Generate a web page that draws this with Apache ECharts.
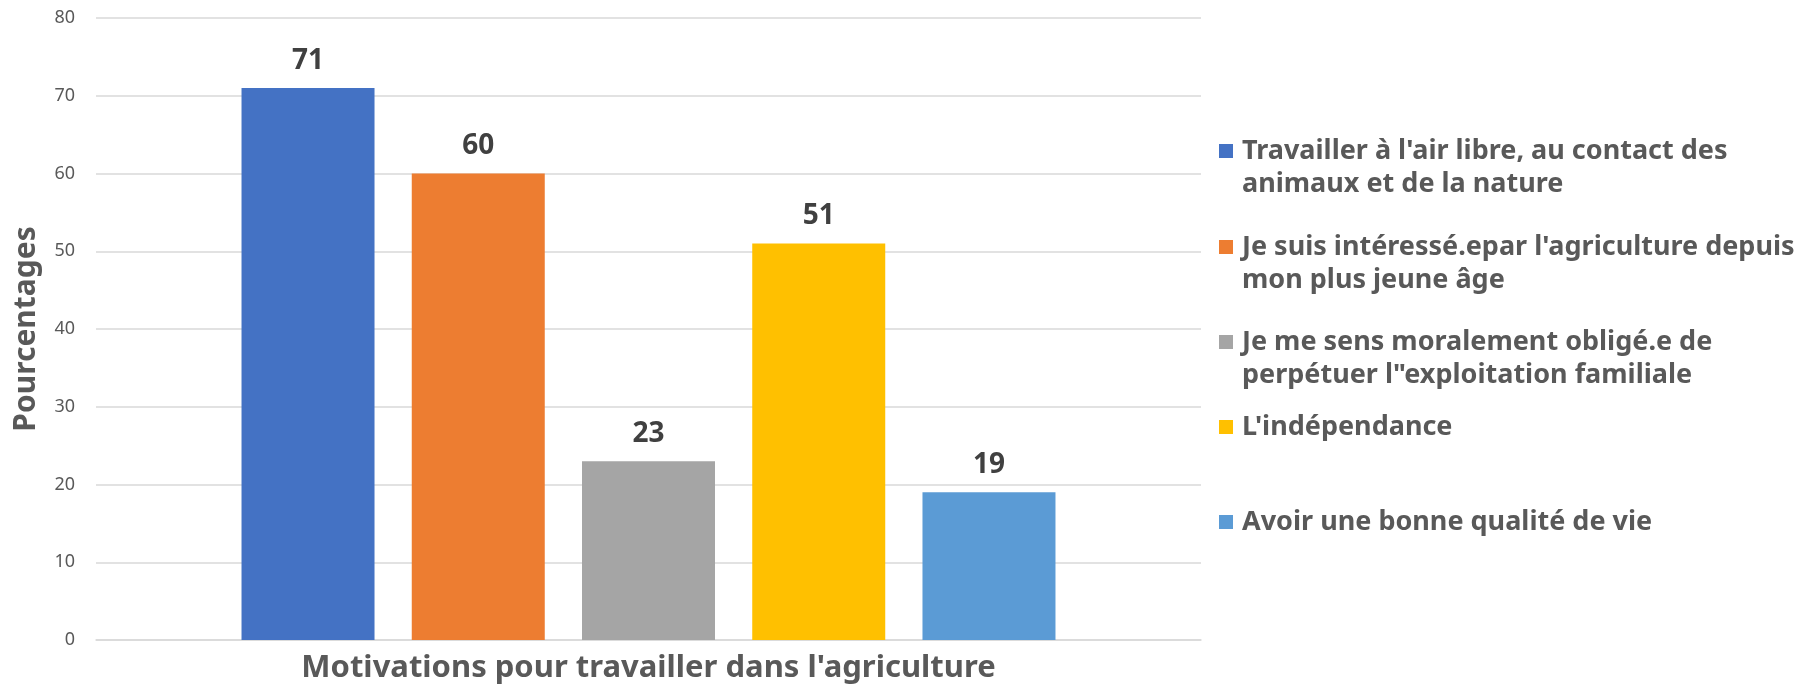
<!DOCTYPE html>
<html>
<head>
<meta charset="utf-8">
<script src="https://cdn.jsdelivr.net/npm/echarts@6/dist/echarts.min.js"></script>
<style>
  html, body { margin: 0; padding: 0; background: #fff; }
  #chart { width: 1811px; height: 685px; }
</style>
</head>
<body>
<div id="chart"></div>
<script>
// données
const motivations = [
  "Travailler à l'air libre, au contact des animaux et de la nature",
  "Je suis intéressé.epar l'agriculture depuis mon plus jeune âge",
  "Je me sens moralement obligé.e de perpétuer l\"exploitation familiale",
  "L'indépendance",
  "Avoir une bonne qualité de vie"
]
// texte de légende coupé comme dans l'original
const legendLines = [
  ["Travailler à l'air libre, au contact des", "animaux et de la nature"],
  ["Je suis intéressé.epar l'agriculture depuis", "mon plus jeune âge"],
  ["Je me sens moralement obligé.e de", "perpétuer l\"exploitation familiale"],
  ["L'indépendance"],
  ["Avoir une bonne qualité de vie"]
]
const pourcentages = [71, 60, 23, 51, 19]
const yTicks = [0, 10, 20, 30, 40, 50, 60, 70, 80]

const colors = ['#4472c4', '#ed7d31', '#a5a5a5', '#ffc000', '#5b9bd5']
const font = 'Noto Sans'
const lineH = 33

const chart = echarts.init(document.getElementById('chart'))

// centre vertical de chaque carré de légende
const legendCenters = [151, 247, 342, 427, 522]

const legends = motivations.map((name, i) => {
  const lines = legendLines[i]
  const twoLines = lines.length > 1
  return {
    data: [name],
    orient: 'vertical',
    left: 1219,
    // ligne vide au-dessus pour aligner le carré sur la 1re ligne
    top: legendCenters[i] - (twoLines ? lineH * 1.5 : lineH / 2),
    padding: 0,
    itemWidth: 14,
    itemHeight: 14,
    itemGap: 0,
    icon: 'rect',
    selectedMode: false,
    formatter: () => (twoLines ? '\n' : '') + lines.join('\n'),
    textStyle: {
      fontFamily: font,
      fontSize: 27,
      fontWeight: 'bold',
      color: '#595959',
      lineHeight: lineH,
      padding: [0, 0, 0, 4]
    }
  }
})

const option = {
  backgroundColor: '#fff',
  animation: false,
  color: colors,
  grid: {
    left: 96,
    right: 610,
    top: 18,
    bottom: 45,
    containLabel: false,
    outerBoundsMode: 'none'
  },
  legend: legends,
  xAxis: {
    type: 'category',
    data: [''],
    name: "Motivations pour travailler dans l'agriculture",
    nameLocation: 'middle',
    nameGap: 13,
    nameTextStyle: {
      fontFamily: font,
      fontSize: 31,
      fontWeight: 'bold',
      color: '#595959'
    },
    axisLine: { lineStyle: { color: '#d9d9d9', width: 1.5 } },
    axisTick: { show: false },
    axisLabel: { show: false }
  },
  yAxis: {
    type: 'value',
    min: yTicks[0],
    max: yTicks[yTicks.length - 1],
    interval: 10,
    name: 'Pourcentages',
    nameLocation: 'middle',
    nameGap: 55,
    nameRotate: 90,
    nameTextStyle: {
      fontFamily: font,
      fontSize: 30,
      fontWeight: 'bold',
      color: '#595959'
    },
    axisLabel: {
      fontFamily: font,
      fontSize: 18,
      color: '#595959',
      margin: 21
    },
    splitLine: { lineStyle: { color: '#d9d9d9', width: 1.5 } }
  },
  series: motivations.map((name, i) => ({
    name: name,
    type: 'bar',
    data: [pourcentages[i]],
    barWidth: 133,
    barGap: '28%',
    itemStyle: { color: colors[i] },
    label: {
      show: true,
      position: 'top',
      distance: 13,
      fontFamily: font,
      fontSize: 28,
      fontWeight: 'bold',
      color: '#404040'
    }
  }))
}
chart.setOption(option)
</script>
</body>
</html>
